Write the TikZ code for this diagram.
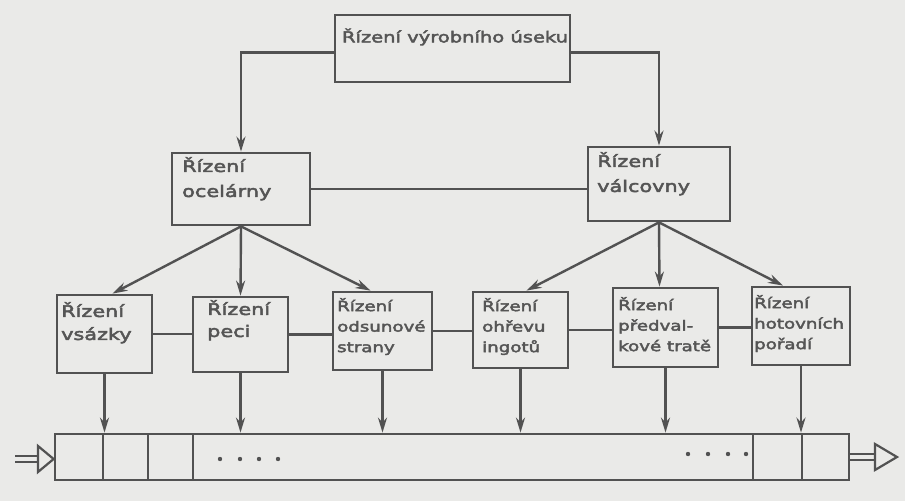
\documentclass[tikz,border=0pt]{standalone}
\usepackage{fontspec}
\newfontfamily\hand{DejaVu Sans}[FakeStretch=1.3,FakeBold=3]
\usetikzlibrary{arrows.meta,calc}
\definecolor{paper}{RGB}{234,234,232}
\definecolor{ink}{RGB}{82,82,82}
\definecolor{txt}{RGB}{85,85,85}
\begin{document}
\begin{tikzpicture}[x=1pt,y=-1pt,
  box/.style={draw=ink,line width=2.8pt,rectangle,inner sep=0pt},
  lbltwo/.style={anchor=north west,align=left,text=txt,inner sep=0pt,font=\hand\fontsize{16}{25}\selectfont},
  lblthree/.style={anchor=north west,align=left,text=txt,inner sep=0pt,font=\hand\fontsize{14}{20.5}\selectfont},
  ln/.style={draw=ink,line width=2.4pt},
  arr/.style={ln,-{Stealth[length=15pt,width=9pt]}},
  dbl/.style={draw=ink,line width=1.8pt,double=paper,double distance=3.5pt},
  tri/.style={draw=ink,line width=2.2pt,fill=paper,line join=miter},
]
\fill[paper] (0,0) rectangle (905,501);
\useasboundingbox (0,0) rectangle (905,501);

% boxes
\node[box,minimum width=235pt,minimum height=67pt] (top) at (452.5,48.5) {};
\node[text=txt,inner sep=0pt,font=\hand\fontsize{15}{18}\selectfont] (toptext) at (455,37) {Řízení výrobního úseku};

\node[box,minimum width=138pt,minimum height=72pt] (oc) at (241,189) {};
\node[lbltwo] (octext) at (182,157) {Řízení\\ocelárny};

\node[box,minimum width=142pt,minimum height=74pt] (val) at (659,184) {};
\node[lbltwo] (valtext) at (597,152) {Řízení\\válcovny};

\node[box,minimum width=95pt,minimum height=78pt] (b1) at (104.5,334) {};
\node[lbltwo,font=\hand\fontsize{16}{23}\selectfont] (b1text) at (61,302) {Řízení\\vsázky};

\node[box,minimum width=95pt,minimum height=75pt] (b2) at (240.5,334.5) {};
\node[lbltwo,font=\hand\fontsize{16}{22}\selectfont] (b2text) at (207,300) {Řízení\\peci};

\node[box,minimum width=99pt,minimum height=78pt] (b3) at (382.5,331) {};
\node[lblthree] (b3text) at (337,298) {Řízení\\odsunové\\strany};

\node[box,minimum width=95pt,minimum height=76pt] (b4) at (520.5,330) {};
\node[lblthree] (b4text) at (482,298) {Řízení\\ohřevu\\ingotů};

\node[box,minimum width=105pt,minimum height=79pt] (b5) at (665.5,327.5) {};
\node[lblthree] (b5text) at (618,297) {Řízení\\předval-\\kové tratě};

\node[box,minimum width=98pt,minimum height=78pt] (b6) at (801,326) {};
\node[lblthree] (b6text) at (754,295) {Řízení\\hotovních\\pořadí};

% bar
\node[box,minimum width=794pt,minimum height=46pt] (bar) at (452,457) {};
\foreach \xx in {103,148,193,753,802}
  \draw[ln,line width=2.8pt] (\xx,434) -- (\xx,480);
\foreach \xx in {220,240,259,278}
  \fill[ink] (\xx,459) circle (2.2pt);
\foreach \xx in {688,708,728,746}
  \fill[ink] (\xx,454) circle (2.2pt);

% top connectors
\draw[arr] ([yshift=-4pt]top.west) -| (oc.north);
\draw[arr] ([yshift=-4pt]top.east) -| (val.north);
\draw[ln] (oc.east) -- (oc.east -| val.west);

% to bottom row
\draw[arr] (oc.south) -- ([xshift=8pt]b1.north);
\draw[arr] (oc.south) -- (b2.north);
\draw[arr] (oc.south) -- ([xshift=-12pt]b3.north);
\draw[arr] (val.south) -- ([xshift=6pt]b4.north);
\draw[arr] (val.south) -- ([xshift=-6pt]b5.north);
\draw[arr] (val.south) -- ([xshift=-18pt]b6.north);

% bottom row links
\draw[ln] (b1.east) -- (b1.east -| b2.west);
\draw[ln] (b2.east) -- (b2.east -| b3.west);
\draw[ln] (b3.east) -- (b3.east -| b4.west);
\draw[ln] (b4.east) -- (b4.east -| b5.west);
\draw[ln] (b5.east) -- (b5.east -| b6.west);

% down to bar
\foreach \bx in {b1,b2,b3,b4,b5,b6}
  \draw[arr] (\bx.south) -- (\bx.south |- bar.north);

% input / output
\coordinate (inend) at (15,459);
\coordinate (outend) at (875,457);
\draw[dbl] (inend) -- (38,459);
\draw[tri] (38,446) -- (bar.west |- 0,459) -- (38,472) -- cycle;
\draw[dbl] (bar.east) -- (outend);
\draw[tri] (outend) ++(0,-13) -- (897,457) -- (875,470) -- cycle;
\end{tikzpicture}
\end{document}
